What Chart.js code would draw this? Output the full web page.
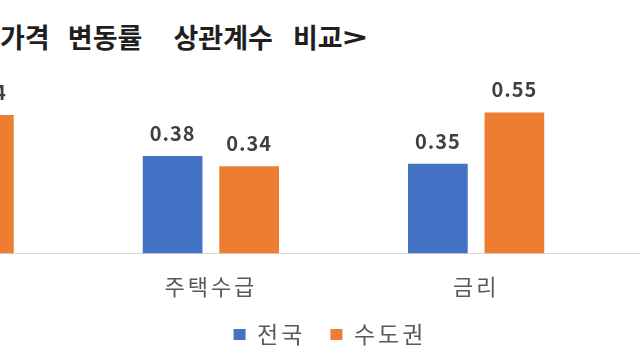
<!DOCTYPE html>
<html>
<head>
<meta charset="utf-8">
<script src="https://cdn.jsdelivr.net/npm/chart.js@4/dist/chart.umd.min.js"></script>
<style>
  html, body { margin:0; padding:0; background:#fff; }
  body { width:640px; height:360px; overflow:hidden; position:relative; }
  #title { position:absolute; left:0; top:22px; font:bold 27px "Noto Sans CJK KR", sans-serif; line-height:30px; letter-spacing:0px; word-spacing:12px; color:#1f1f1f; white-space:nowrap; }
  #title .w2 { padding-left:13px; }
  #title .w3 { padding-left:2px; }
  #title .gt { display:inline-block; transform:scaleX(1.5); transform-origin:0 50%; }
  #wrap { position:absolute; left:-214px; top:0; width:1088px; height:360px; }
</style>
</head>
<body>
<div id="title">가격 변동률<span class="w2"> 상관계수</span><span class="w3"> 비교<span class="gt">&gt;</span></span></div>
<div id="wrap"><canvas id="c"></canvas></div>
<script>
const categories = ['', '주택수급', '금리', ''];
const seriesNames = ['전국', '수도권'];
const nationalValues = [null, 0.38, 0.35, null];
const capitalValues = [0.54, 0.34, 0.55, null];
const colors = ['#4472C4', '#ED7D31'];
const FONT = '"Noto Sans CJK KR", "Noto Sans", sans-serif';

const spacing = {
  id: 'spacing',
  beforeLayout(chart) { chart.ctx.letterSpacing = '3px'; },
  beforeDraw(chart) { chart.ctx.letterSpacing = '3px'; }
};

const valueLabels = {
  id: 'valueLabels',
  afterDatasetsDraw(chart) {
    const ctx = chart.ctx;
    ctx.save();
    ctx.letterSpacing = '1px';
    ctx.font = 'bold 20px ' + FONT;
    ctx.fillStyle = '#404040';
    ctx.textAlign = 'center';
    ctx.textBaseline = 'alphabetic';
    chart.data.datasets.forEach((ds, di) => {
      chart.getDatasetMeta(di).data.forEach((bar, i) => {
        const v = ds.data[i];
        if (v === null || v === undefined) return;
        ctx.fillText(v.toFixed(2), bar.x, bar.y - 15);
      });
    });
    ctx.restore();
  }
};

new Chart(document.getElementById('c'), {
  type: 'bar',
  data: {
    labels: categories,
    datasets: [
      { label: seriesNames[0], data: nationalValues, backgroundColor: colors[0] },
      { label: seriesNames[1], data: capitalValues, backgroundColor: colors[1] }
    ]
  },
  options: {
    responsive: true,
    maintainAspectRatio: false,
    animation: false,
    layout: { padding: { top: 74, bottom: 4, left: 0, right: 0 } },
    datasets: { bar: { categoryPercentage: 0.577, barPercentage: 0.78 } },
    scales: {
      x: {
        grid: { display: false, drawTicks: false },
        border: { display: true, color: '#D9D9D9', width: 1 },
        ticks: { font: { family: FONT, size: 22 }, color: '#595959', padding: 20, maxRotation: 0 },
        afterFit(scale) { scale.height = 44.5; }
      },
      y: {
        position: 'left',
        min: 0, max: 0.7,
        grid: { display: false, drawTicks: false },
        border: { display: false },
        ticks: { display: false },
        afterFit(scale) { scale.width = 27; }
      }
    },
    plugins: {
      legend: {
        position: 'bottom',
        labels: {
          font: { family: FONT, size: 23 },
          color: '#595959',
          boxWidth: 12, boxHeight: 11,
          padding: 25
        }
      },
      tooltip: { enabled: false }
    }
  },
  plugins: [spacing, valueLabels]
});
</script>
</body>
</html>
